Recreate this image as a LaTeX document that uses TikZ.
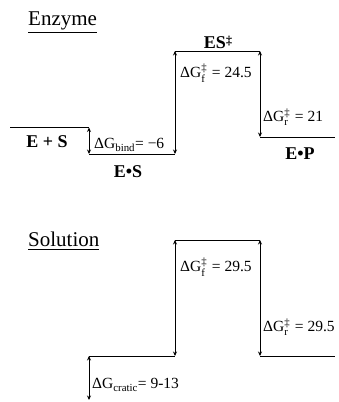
\documentclass[tikz,border=0pt]{standalone}
\usepackage{fontspec}
\setmainfont{Liberation Serif}
\usepackage{amsmath}
\usetikzlibrary{arrows.meta}
\newcommand\dgfr[1]{ΔG$_{\text{#1}}^{\text{‡}}$\hspace{0.8pt}}
\begin{document}
\begin{tikzpicture}[x=1pt,y=-1pt,
  level/.style={line width=1pt},
  gap/.style={line width=0.7pt,{Stealth[length=4.5pt,width=4pt]}-{Stealth[length=4.5pt,width=4pt]}},
  lab/.style={font=\fontsize{15.5}{18}\selectfont, inner sep=0pt, anchor=west},
  blab/.style={font=\fontsize{18}{20}\selectfont\bfseries, inner sep=0pt},
  ttl/.style={font=\fontsize{21}{24}\selectfont, inner sep=0pt, anchor=base west}]
\useasboundingbox (0,0) rectangle (339,402);
% ---------- Enzyme ----------
\node[ttl] (t1) at (28,25) {\underline{Enzyme}};
\coordinate (a0) at (10,127.5);
\coordinate (a1) at (89,127.5);
\coordinate (b0) at (89,154);
\coordinate (b1) at (175,154);
\coordinate (c0) at (175,51);
\coordinate (c1) at (260,51);
\coordinate (d0) at (260,137);
\coordinate (d1) at (335,137);
\draw[level] (a0) -- (a1);
\draw[level] (b0) -- (b1);
\draw[level] (c0) -- (c1);
\draw[level] (d0) -- (d1);
\draw[gap] (a1) -- (b0);
\draw[gap] (c0) -- (b1);
\draw[gap] (c1) -- (d0);
\node[blab] (es) at (47,142) {E + S};
\node[blab] (ebs) at (128,172) {E•S};
\node[blab] (ets) at (218,42) {ES\raisebox{0.5ex}{\fontsize{12}{12}\selectfont ‡}};
\node[blab] (ebp) at (300,154) {E•P};
\node[lab] (gb) at (94,145) {ΔG\textsubscript{bind}= −6};
\node[lab] (gf1) at (180,73) {\dgfr{f} = 24.5};
\node[lab] (gr1) at (263,117) {\dgfr{r} = 21};
% ---------- Solution ----------
\node[ttl] (t2) at (28,246) {\underline{Solution}};
\coordinate (p0) at (175,240);
\coordinate (p1) at (260,240);
\coordinate (q0) at (89,356);
\coordinate (q1) at (175,356);
\coordinate (r0) at (260,356);
\coordinate (r1) at (335,356);
\coordinate (s0) at (89,400);
\draw[level] (p0) -- (p1);
\draw[level] (q0) -- (q1);
\draw[level] (r0) -- (r1);
\draw[gap] (p0) -- (q1);
\draw[gap] (p1) -- (r0);
\draw[gap] (q0) -- (s0);
\node[lab] (gf2) at (180,267) {\dgfr{f} = 29.5};
\node[lab] (gr2) at (263,327) {\dgfr{r} = 29.5};
\node[lab] (gc) at (92,385) {ΔG\textsubscript{cratic}= 9-13};
\end{tikzpicture}
\end{document}
